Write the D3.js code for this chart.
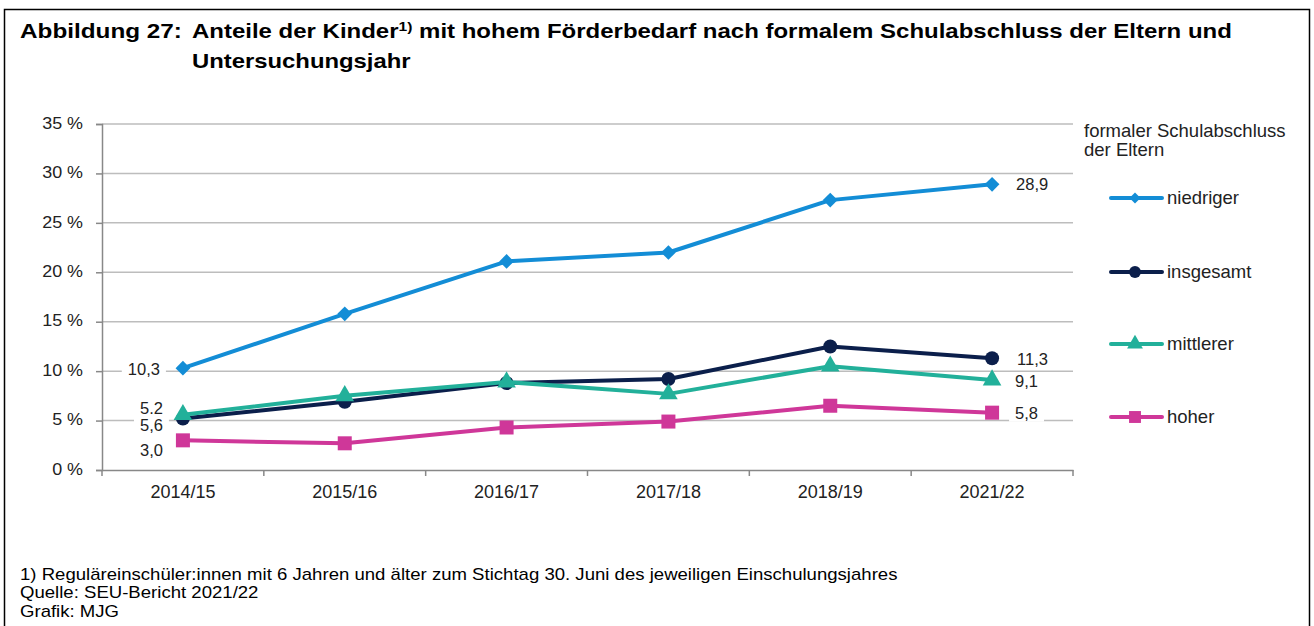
<!DOCTYPE html>
<html><head><meta charset="utf-8">
<script src="https://cdn.jsdelivr.net/npm/d3@7"></script>
<style>body{margin:0;background:#fff;font-family:"Liberation Sans",Arial,sans-serif}</style>
</head><body><svg id="c" width="1314" height="626" font-family="Liberation Sans, Arial, sans-serif"></svg>
<script>
const years = ["2014/15","2015/16","2016/17","2017/18","2018/19","2021/22"];
const niedriger = [10.3,15.8,21.1,22.0,27.3,28.9];
const insgesamt = [5.2,6.9,8.8,9.2,12.5,11.3];
const mittlerer = [5.6,7.5,8.9,7.7,10.5,9.1];
const hoher = [3.0,2.7,4.3,4.9,6.5,5.8];
const yTicks = [0,5,10,15,20,25,30,35];
const seriesNames = ["niedriger","insgesamt","mittlerer","hoher"];
const startLabels = ["10,3","5.2","5,6","3,0"];
const endLabels = ["28,9","11,3","9,1","5,8"];

const colors = ["#138dd6","#0b1f4b","#22b09a","#cf3799"];
const seriesData = [niedriger, insgesamt, mittlerer, hoher];

const svg = d3.select("#c");
svg.append("rect").attr("x",4.5).attr("y",9.5).attr("width",1305).attr("height",630)
  .attr("fill","none").attr("stroke","#000").attr("stroke-width",1.5);

// stretch helper: scales text horizontally to a target width
function fitText(g, x, y, target){
  const w = g.node().getBBox().width;
  const k = target / w;
  g.attr("transform", `translate(${x},${y}) scale(${k},1)`);
}

// title
const tA = svg.append("text").attr("font-size",20).attr("font-weight","bold").text("Abbildung 27:");
fitText(tA, 20, 38, 162);
const t1 = svg.append("text").attr("font-size",20).attr("font-weight","bold");
t1.append("tspan").text("Anteile der Kinder");
t1.append("tspan").attr("font-size",13).attr("dy",-7).text("1)");
t1.append("tspan").attr("dy",7).text(" mit hohem Förderbedarf nach formalem Schulabschluss der Eltern und");
fitText(t1, 192, 38, 1040);
const t2 = svg.append("text").attr("font-size",20).attr("font-weight","bold").text("Untersuchungsjahr");
fitText(t2, 192, 68, 219);

const m = {l:102, r:1073, t:124, b:470};
const x = d3.scaleBand().domain(years).range([m.l,m.r]);
const y = d3.scaleLinear().domain([0,35]).range([m.b,m.t]);
const cx = d=>x(d)+x.bandwidth()/2;

// gridlines
svg.append("g").selectAll("line").data(yTicks.filter(d=>d>0)).join("line")
  .attr("x1",m.l).attr("x2",m.r).attr("y1",d=>y(d)).attr("y2",d=>y(d))
  .attr("stroke","#bdbdbd").attr("stroke-width",1.5);

// y axis
const ya = svg.append("g").attr("transform",`translate(${m.l},0)`)
  .call(d3.axisLeft(y).tickValues(yTicks).tickFormat(d=>d+" %").tickSize(6));
ya.select(".domain").attr("stroke","#888").attr("stroke-width",1.5);
ya.selectAll(".tick line").attr("stroke","#888").attr("stroke-width",1.5);
ya.selectAll(".tick text").attr("font-size",16).attr("fill","#222").attr("x",0).attr("dy",null)
  .attr("dominant-baseline","middle").attr("text-anchor","end")
  .attr("transform","translate(-19,0) scale(1.12,1)");

// x axis
const xa = svg.append("g").attr("transform",`translate(0,${m.b})`)
  .call(d3.axisBottom(x).tickSize(0));
xa.select(".domain").attr("stroke","#888").attr("stroke-width",1.5);
xa.selectAll(".tick text").attr("font-size",18).attr("fill","#222").attr("y",28).attr("dy",null);
xa.selectAll(".sep").data(d3.range(years.length+1)).join("line").attr("class","sep")
  .attr("x1",i=>m.l+i*x.step()).attr("x2",i=>m.l+i*x.step())
  .attr("y1",0).attr("y2",6).attr("stroke","#888").attr("stroke-width",1.5);

// value labels with white background
function label(tx,ty,txt,anchor){
  const g = svg.append("g");
  const t = g.append("text").attr("x",tx).attr("y",ty).attr("font-size",16.5).attr("fill","#222")
    .attr("text-anchor",anchor||"start").text(txt);
  const bb = t.node().getBBox();
  g.insert("rect","text").attr("x",bb.x-6).attr("y",bb.y).attr("width",bb.width+12).attr("height",bb.height).attr("fill","#fff");
}
const sx = cx(years[0]);
label(sx-23, y(niedriger[0])+7, startLabels[0], "end");
label(sx-20, y(insgesamt[0])-5, startLabels[1], "end");
label(sx-20, y(mittlerer[0])+16, startLabels[2], "end");
label(sx-20, y(hoher[0])+16, startLabels[3], "end");
const ex = cx(years[5]);
label(ex+24, y(niedriger[5])+6, endLabels[0]);
label(ex+25, y(insgesamt[5])+7, endLabels[1]);
label(ex+23, y(mittlerer[5])+7, endLabels[2]);
label(ex+23, y(hoher[5])+6, endLabels[3]);

// markers
function marker(g, k, px, py, s){
  s = s||1;
  if(k===0){
    g.append("rect").attr("x",-5.2*s).attr("y",-5.2*s).attr("width",10.4*s).attr("height",10.4*s)
      .attr("fill",colors[k]).attr("transform",`translate(${px},${py}) rotate(45)`);
  } else if(k===1){
    g.append("circle").attr("cx",px).attr("cy",py).attr("r",7*s).attr("fill",colors[k]);
  } else if(k===2){
    g.append("path").attr("transform",`translate(${px},${py})`)
      .attr("d",d3.symbol().type(d3.symbolTriangle).size(150*s*s)).attr("fill",colors[k]);
  } else {
    g.append("rect").attr("x",px-7*s).attr("y",py-7*s).attr("width",14*s).attr("height",14*s).attr("fill",colors[k]);
  }
}

const line = d3.line().x((d,i)=>cx(years[i])).y(d=>y(d));
[3,1,2,0].forEach(k=>{
  const g = svg.append("g");
  g.append("path").datum(seriesData[k]).attr("d",line).attr("fill","none")
    .attr("stroke",colors[k]).attr("stroke-width",4).attr("stroke-linejoin","round");
  seriesData[k].forEach((v,i)=>marker(g,k,cx(years[i]),y(v)));
});

// legend
const lg = svg.append("g");
lg.append("text").attr("x",1084).attr("y",137).attr("font-size",18.5).attr("fill","#222").text("formaler Schulabschluss");
lg.append("text").attr("x",1084).attr("y",156).attr("font-size",18.5).attr("fill","#222").text("der Eltern");
const ly = [198,272,344,417];
seriesNames.forEach((n,k)=>{
  lg.append("line").attr("x1",1111).attr("x2",1162).attr("y1",ly[k]).attr("y2",ly[k])
    .attr("stroke",colors[k]).attr("stroke-width",4).attr("stroke-linecap","round");
  marker(lg,k,1135,ly[k],k===0?0.75:0.85);
  lg.append("text").attr("x",1167).attr("y",ly[k]+6).attr("font-size",18.5).attr("fill","#222").text(n);
});

// footnotes
const notes = ["1) Reguläreinschüler:innen mit 6 Jahren und älter zum Stichtag 30. Juni des jeweiligen Einschulungsjahres","Quelle: SEU-Bericht 2021/22","Grafik: MJG"];
const n0 = svg.append("text").attr("font-size",16).text(notes[0]);
const kN = 878 / n0.node().getBBox().width;
n0.remove();
notes.forEach((d,i)=>{
  svg.append("text").attr("font-size",16).attr("fill","#000").text(d)
    .attr("transform",`translate(20,${580+i*18.3}) scale(${kN},1)`);
});
</script></body></html>
